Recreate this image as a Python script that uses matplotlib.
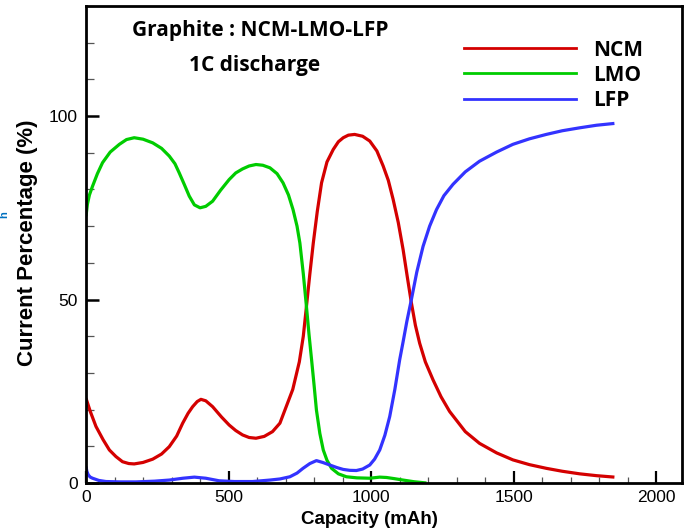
import matplotlib
matplotlib.use("Agg")
import matplotlib.pyplot as plt
from matplotlib.ticker import MultipleLocator
from matplotlib.lines import Line2D

# ---- data ----
ncm_x = [0, 15, 35, 60, 82, 105, 128, 150, 169, 200, 234, 265, 292, 318, 339, 358, 374, 390, 403,
         420, 444, 475, 502, 525, 549, 572, 596, 625, 654, 680, 703, 725, 748, 762, 773, 785,
         797, 811, 826, 845, 867, 885, 902, 920, 942, 970, 995, 1020, 1042, 1060, 1077, 1095,
         1112, 1127, 1141, 1155, 1170, 1190, 1217, 1245, 1275, 1330, 1380, 1440, 1497, 1555,
         1614, 1670, 1731, 1790, 1853]
ncm_y = [23.1, 19.5, 15.4, 11.8, 9.0, 7.2, 5.8, 5.3, 5.2, 5.6, 6.5, 7.9, 9.9, 12.8, 16.3, 19.0, 20.8, 22.2, 22.8,
         22.4, 20.8, 18.0, 15.8, 14.3, 13.1, 12.4, 12.2, 12.7, 14.0, 16.3, 21.0, 25.5, 33.0, 40.0, 48.1, 57.0,
         65.4, 74.0, 81.8, 87.5, 90.9, 93.0, 94.1, 94.8, 95.0, 94.5, 93.2, 90.5, 86.4, 82.5, 77.3, 71.0,
         63.6, 56.0, 49.1, 43.0, 38.1, 33.0, 28.1, 23.5, 19.5, 14.0, 10.8, 8.2, 6.3, 5.0,
         4.0, 3.2, 2.5, 2.0, 1.6]

lmo_x = [0, 5, 12, 23, 40, 58, 85, 117, 142, 169, 200, 234, 265, 292, 312, 327, 345, 362, 380, 400,
         420, 444, 472, 502, 525, 549, 572, 596, 620, 645, 670, 691, 710, 726, 740, 750, 762, 773,
         782, 791, 800, 808, 820, 832, 845, 861, 885, 913, 950, 995, 1030, 1054, 1080, 1112, 1150, 1194]
lmo_y = [72.7, 76.0, 78.5, 80.9, 84.3, 87.3, 90.2, 92.3, 93.6, 94.1, 93.7, 92.7, 91.2, 89.1, 87.0, 84.5, 81.3, 78.2, 75.8, 75.0,
         75.4, 76.8, 79.8, 82.7, 84.5, 85.6, 86.4, 86.8, 86.6, 85.9, 84.3, 81.8, 78.5, 74.5, 70.0, 65.4, 57.0, 48.1,
         40.5, 33.6, 26.5, 19.9, 13.5, 9.0, 6.2, 4.0, 2.5, 1.7, 1.4, 1.3, 1.6, 1.5, 1.2, 0.8, 0.35, 0.0]

lfp_x = [0, 3, 8, 15, 23, 45, 70, 120, 175, 240, 292, 340, 380, 420, 467, 520, 584, 645, 680, 715,
         740, 761, 785, 808, 830, 855, 880, 902, 925, 948, 970, 995, 1012, 1030, 1048, 1065, 1083,
         1100, 1112, 1125, 1141, 1160, 1182, 1205, 1229, 1255, 1287, 1330, 1380, 1440, 1497, 1555,
         1614, 1670, 1731, 1790, 1853]
lfp_y = [4.5, 3.2, 2.2, 1.6, 1.3, 0.7, 0.4, 0.3, 0.3, 0.5, 0.8, 1.3, 1.6, 1.3, 0.6, 0.4, 0.4, 0.8, 1.1, 1.7,
         2.7, 4.0, 5.3, 6.1, 5.6, 4.9, 4.2, 3.7, 3.45, 3.4, 3.8, 4.9, 6.5, 9.0, 13.0, 18.1, 25.5,
         33.6, 38.5, 44.0, 50.0, 57.5, 64.5, 70.0, 74.5, 78.3, 81.4, 84.8, 87.7, 90.2, 92.3, 93.8,
         95.0, 96.0, 96.8, 97.5, 98.0]

series_names = ["NCM", "LMO", "LFP"]
series_colors = ["#d40000", "#00cc00", "#3333ff"]

x_major = [0, 500, 1000, 1500, 2000]
y_major = [0, 50, 100]

plt.rcParams['font.family'] = ['Liberation Sans', 'DejaVu Sans']

fig = plt.figure(figsize=(6.88, 5.31), dpi=100)
ax = fig.add_axes([0.125, 0.0904, 0.8663, 0.8983])

lw = 2.3
for xs, ys, c in [(ncm_x, ncm_y, series_colors[0]),
                  (lmo_x, lmo_y, series_colors[1]),
                  (lfp_x, lfp_y, series_colors[2])]:
    ax.plot(xs, ys, color=c, lw=lw, solid_joinstyle='round', solid_capstyle='butt', clip_on=True)

ax.set_xlim(0, 2090)
ax.set_ylim(0, 130)
ax.set_xticks(x_major)
ax.set_yticks(y_major)
ax.xaxis.set_minor_locator(MultipleLocator(100))
ax.yaxis.set_minor_locator(MultipleLocator(10))
ax.tick_params(axis='both', which='both', direction='in', top=False, right=False)
ax.tick_params(axis='x', which='major', length=8.5, width=1.6, pad=5, labelsize=12.5)
ax.tick_params(axis='x', which='minor', length=4.5, width=0.9, color='#555555')
ax.tick_params(axis='y', which='major', length=9.5, width=1.8, pad=6, labelsize=12.5)
ax.tick_params(axis='y', which='minor', length=5.5, width=0.9, color='#555555')
for s in ax.spines.values():
    s.set_linewidth(2.0)

ax.set_xlabel("Capacity (mAh)", fontsize=13.5, fontweight='bold', labelpad=1)
ax.xaxis.set_label_coords(0.476, -0.058)
ax.set_ylabel("Current Percentage (%)", fontsize=16, fontweight='bold', labelpad=8)
ax.yaxis.set_label_coords(-0.08, 0.503)

cal = ['Open Sans', 'DejaVu Sans']
ax.text(0.078, 0.949, "Graphite : NCM-LMO-LFP", transform=ax.transAxes, fontsize=15,
        fontweight='bold', family=cal, ha='left', va='center')
ax.text(0.172, 0.876, "1C discharge", transform=ax.transAxes, fontsize=15,
        fontweight='bold', family=cal, ha='left', va='center')

handles = [Line2D([], [], color=c, lw=2.0) for c in series_colors]
leg = ax.legend(handles, series_names, loc='upper left', bbox_to_anchor=(0.62, 0.947),
                frameon=False, handlelength=5.4, handletextpad=0.8, labelspacing=0.2,
                prop={'family': cal, 'weight': 'bold', 'size': 15}, borderaxespad=0)

# fragment of another label at the left edge
fig.text(0.0055, 0.595, "h", rotation=90, color='#0070c0', fontsize=8, fontweight='bold',
         ha='center', va='center')

fig.savefig("out.png", dpi=100)
